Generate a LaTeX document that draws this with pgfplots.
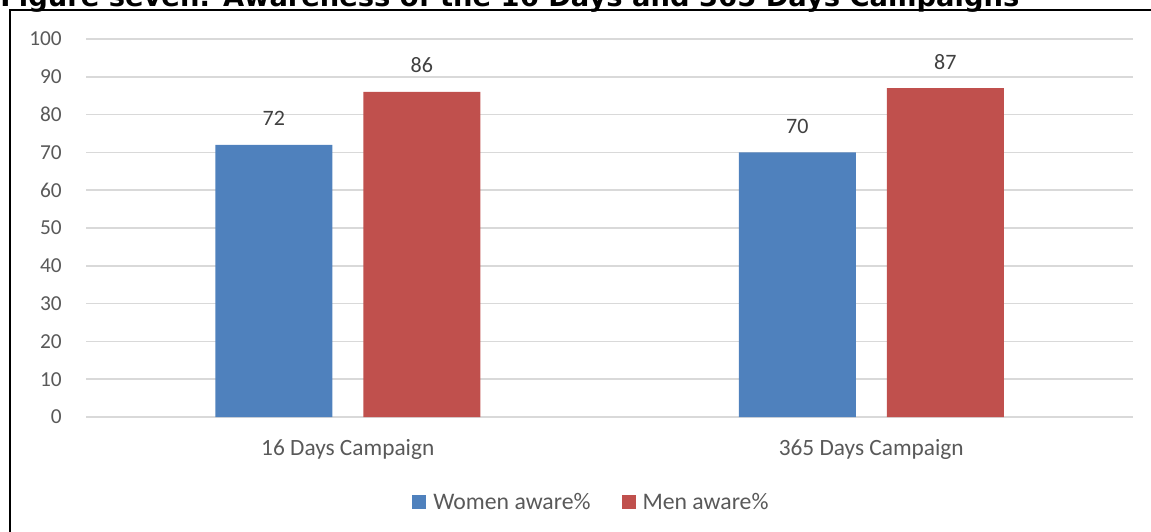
\documentclass[border=0pt]{standalone}
\usepackage{pgfplots}
\pgfplotsset{compat=1.18}
\usepackage{fontspec}
\setmainfont{Carlito}
\newfontfamily\titlefont{DejaVu Sans}
\definecolor{cblue}{HTML}{4F81BD}
\definecolor{cred}{HTML}{C0504D}
\definecolor{gridgray}{HTML}{D9D9D9}
\definecolor{labgray}{HTML}{595959}
\definecolor{valgray}{HTML}{404040}
\begin{document}
\begin{tikzpicture}[x=0.75pt,y=-0.75pt]
\useasboundingbox (0,0) rectangle (1151,531);
\draw[line width=1.5pt] (10,560) -- (10,10) -- (1180,10);
\node[anchor=base west, inner sep=0pt, font=\titlefont\bfseries\fontsize{20.5}{24}\selectfont] at (0,6.5) {Figure seven: Awareness of the 16 Days and 365 Days Campaigns};
\begin{axis}[
  at={(64.5pt,-312.75pt)}, anchor=south west,
  scale only axis, width=785.25pt, height=283.5pt,
  xmin=-0.5, xmax=1.5, ymin=0, ymax=100,
  xtick={0,1}, xticklabels={16 Days Campaign, 365 Days Campaign},
  ytick={0,10,...,100},
  ymajorgrids, grid style={color=gridgray, line width=1.3pt},
  axis line style={draw=none},
  major tick length=0pt,
  /pgf/number format/assume math mode=true,
  yticklabel style={font=\fontsize{16}{19}\selectfont, text=labgray, anchor=east, inner sep=0pt, xshift=-18pt},
  xticklabel style={font=\fontsize{17.5}{21}\selectfont, text=labgray, anchor=base, inner sep=0pt, yshift=-28.5pt},
  ybar, bar width=87.75pt,
  nodes near coords,
  every node near coord/.append style={font=\fontsize{16.5}{19}\selectfont, text=valgray, inner sep=0pt, yshift=14pt},
  legend columns=2,
  legend image code/.code={\fill[#1] (0pt,-5.25pt) rectangle (10.5pt,5.25pt); \path (15.75pt,0pt);},
  legend style={draw=none, fill=none, at={(0.3114,-0.2249)}, anchor=west, inner sep=0pt,
    font=\fontsize{17.8}{21}\selectfont, text=labgray,
    nodes={inner sep=0pt}, column sep=0pt,
    /tikz/every even column/.append style={column sep=23.25pt}},
]
\addplot[fill=cblue, draw=none, bar shift=-55.5pt] coordinates {(0,72) (1,70)};
\addlegendentry{Women aware\%}
\addplot[fill=cred, draw=none, bar shift=55.5pt] coordinates {(0,86) (1,87)};
\addlegendentry{Men aware\%}
\end{axis}
\end{tikzpicture}
\end{document}
